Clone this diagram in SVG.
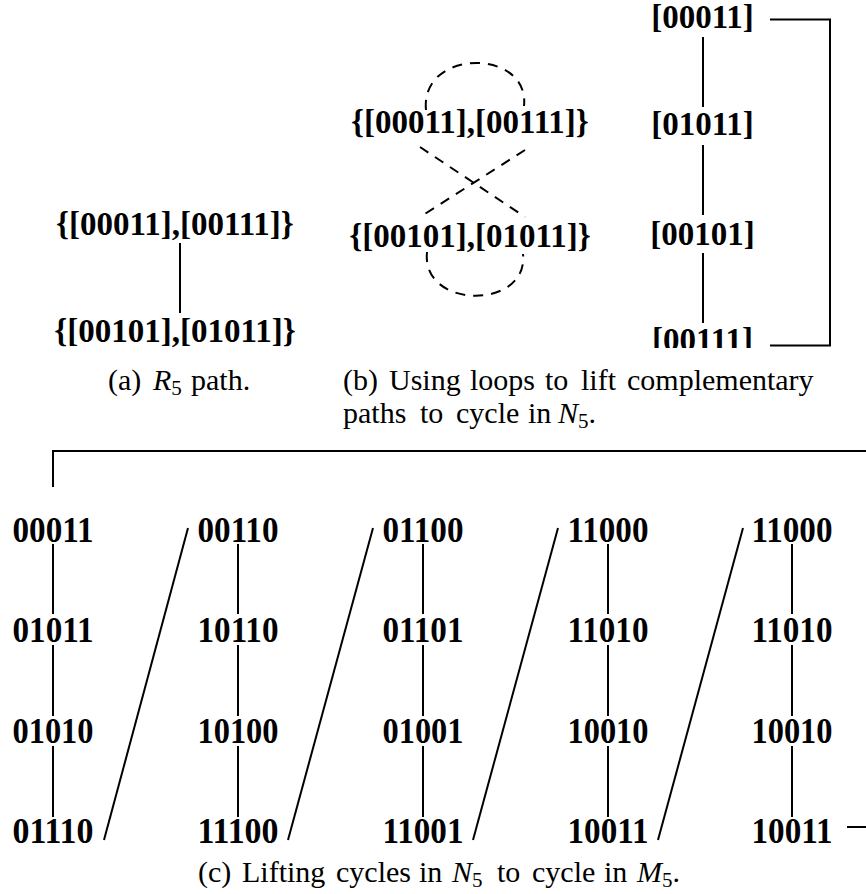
<svg xmlns="http://www.w3.org/2000/svg" width="866" height="894" viewBox="0 0 866 894">
<style>
  .lb { font-family: "Liberation Serif", "Times New Roman", serif; font-weight: bold; font-size: 33px; text-anchor: middle; fill: #000; }
  .lc { font-family: "Liberation Serif", "Times New Roman", serif; font-weight: bold; font-size: 35px; text-anchor: middle; fill: #000; }
  .cap { font-family: "Liberation Serif", "Times New Roman", serif; font-size: 30px; fill: #000; }
  .it { font-style: italic; }
  .sub { font-size: 21px; }
  .e { stroke: #000; stroke-width: 2; fill: none; }
  .d { stroke: #000; stroke-width: 2; fill: none; stroke-dasharray: 10 8; }
</style>
<defs>
  <clipPath id="clipB"><rect x="600" y="0" width="266" height="348"/></clipPath>
</defs>
<rect width="866" height="894" fill="#fff"/>

<!-- (a) -->
<g id="a1"><text class="lb" x="175" y="235">{[00011],[00111]}</text></g>
<g id="a2"><text class="lb" x="175" y="342">{[00101],[01011]}</text></g>

<!-- (b) left -->
<g id="b1"><text class="lb" x="470" y="133">{[00011],[00111]}</text></g>
<g id="b2"><text class="lb" x="470" y="247">{[00101],[01011]}</text></g>

<!-- (b) right -->
<g id="r1"><text class="lb" x="702.5" y="28">[00011]</text></g>
<g id="r2"><text class="lb" x="702.5" y="135">[01011]</text></g>
<g id="r3"><text class="lb" x="702.5" y="245">[00101]</text></g>
<g id="r4" clip-path="url(#clipB)"><text class="lb" x="702.5" y="351">[00111]</text></g>

<!-- (c) -->
<g id="c11"><text class="lc" x="53" y="542" textLength="81" lengthAdjust="spacingAndGlyphs">00011</text></g>
<g id="c12"><text class="lc" x="53" y="642" textLength="81" lengthAdjust="spacingAndGlyphs">01011</text></g>
<g id="c13"><text class="lc" x="53" y="743" textLength="81" lengthAdjust="spacingAndGlyphs">01010</text></g>
<g id="c14"><text class="lc" x="53" y="843" textLength="81" lengthAdjust="spacingAndGlyphs">01110</text></g>
<g id="c21"><text class="lc" x="238" y="542" textLength="81" lengthAdjust="spacingAndGlyphs">00110</text></g>
<g id="c22"><text class="lc" x="238" y="642" textLength="81" lengthAdjust="spacingAndGlyphs">10110</text></g>
<g id="c23"><text class="lc" x="238" y="743" textLength="81" lengthAdjust="spacingAndGlyphs">10100</text></g>
<g id="c24"><text class="lc" x="238" y="843" textLength="81" lengthAdjust="spacingAndGlyphs">11100</text></g>
<g id="c31"><text class="lc" x="423" y="542" textLength="81" lengthAdjust="spacingAndGlyphs">01100</text></g>
<g id="c32"><text class="lc" x="423" y="642" textLength="81" lengthAdjust="spacingAndGlyphs">01101</text></g>
<g id="c33"><text class="lc" x="423" y="743" textLength="81" lengthAdjust="spacingAndGlyphs">01001</text></g>
<g id="c34"><text class="lc" x="423" y="843" textLength="81" lengthAdjust="spacingAndGlyphs">11001</text></g>
<g id="c41"><text class="lc" x="608" y="542" textLength="81" lengthAdjust="spacingAndGlyphs">11000</text></g>
<g id="c42"><text class="lc" x="608" y="642" textLength="81" lengthAdjust="spacingAndGlyphs">11010</text></g>
<g id="c43"><text class="lc" x="608" y="743" textLength="81" lengthAdjust="spacingAndGlyphs">10010</text></g>
<g id="c44"><text class="lc" x="608" y="843" textLength="81" lengthAdjust="spacingAndGlyphs">10011</text></g>
<g id="c51"><text class="lc" x="792" y="542" textLength="81" lengthAdjust="spacingAndGlyphs">11000</text></g>
<g id="c52"><text class="lc" x="792" y="642" textLength="81" lengthAdjust="spacingAndGlyphs">11010</text></g>
<g id="c53"><text class="lc" x="792" y="743" textLength="81" lengthAdjust="spacingAndGlyphs">10010</text></g>
<g id="c54"><text class="lc" x="792" y="843" textLength="81" lengthAdjust="spacingAndGlyphs">10011</text></g>

<!-- connectors -->
<g id="connectors">
  <!-- (a) -->
  <line class="e" x1="180" y1="243" x2="180" y2="313"/>
  <!-- (b) loops and cross -->
  <path class="d" d="M426,110 C420,48 530,48 524,106"/>
  <path class="d" d="M427,252 C421,310 529,310 523,254"/>
  <line class="d" x1="420" y1="147" x2="525" y2="217"/>
  <line class="d" x1="525" y1="150" x2="420" y2="217"/>
  <!-- (b) right -->
  <line class="e" x1="703" y1="37" x2="703" y2="107"/>
  <line class="e" x1="703" y1="145" x2="703" y2="215"/>
  <line class="e" x1="703" y1="253" x2="703" y2="323"/>
  <path class="e" d="M770,19.5 H830 V345.5 H770"/>
  <!-- (c) verticals -->
  <path class="e" d="M53,544 V614 M53,645 V716 M53,746 V817"/>
  <path class="e" d="M238,544 V614 M238,645 V716 M238,746 V817"/>
  <path class="e" d="M423,544 V614 M423,645 V716 M423,746 V817"/>
  <path class="e" d="M608,544 V614 M608,645 V716 M608,746 V817"/>
  <path class="e" d="M792,544 V614 M792,645 V716 M792,746 V817"/>
  <!-- (c) diagonals -->
  <line class="e" x1="188" y1="528" x2="104" y2="840"/>
  <line class="e" x1="373" y1="528" x2="288" y2="840"/>
  <line class="e" x1="558" y1="528" x2="473" y2="840"/>
  <line class="e" x1="743" y1="528" x2="658" y2="840"/>
  <!-- (c) wrap-around -->
  <path class="e" d="M53,487 V451 H866"/>
  <line class="e" x1="847" y1="827" x2="866" y2="827"/>
</g>

<!-- captions -->
<text class="cap" y="390"><tspan x="108">(a)</tspan><tspan x="153" class="it">R</tspan><tspan class="sub" dy="5">5</tspan><tspan x="191" dy="-5">path.</tspan></text>
<text class="cap" y="390"><tspan x="343">(b)</tspan><tspan x="389">Using</tspan><tspan x="470">loops</tspan><tspan x="545">to</tspan><tspan x="581">lift</tspan><tspan x="627">complementary</tspan></text>
<text class="cap" y="423"><tspan x="343">paths</tspan><tspan x="420">to</tspan><tspan x="456">cycle</tspan><tspan x="528">in</tspan><tspan x="558" class="it">N</tspan><tspan class="sub" dy="5">5</tspan><tspan dy="-5">.</tspan></text>
<text class="cap" y="882"><tspan x="198">(c)</tspan><tspan x="242">Lifting</tspan><tspan x="336">cycles</tspan><tspan x="419">in</tspan><tspan x="452" class="it">N</tspan><tspan class="sub" dy="5">5</tspan><tspan x="497" dy="-5">to</tspan><tspan x="532">cycle</tspan><tspan x="604">in</tspan><tspan x="637" class="it">M</tspan><tspan class="sub" dy="5">5</tspan><tspan dy="-5">.</tspan></text>
</svg>
